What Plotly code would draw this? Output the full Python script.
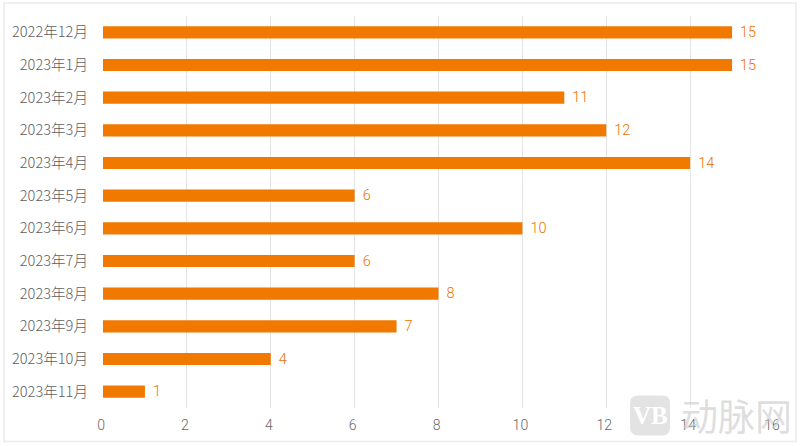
import plotly.graph_objects as go

months = ["2022年12月","2023年1月","2023年2月","2023年3月","2023年4月","2023年5月",
          "2023年6月","2023年7月","2023年8月","2023年9月","2023年10月","2023年11月"]
counts = [15,15,11,12,14,6,10,6,8,7,4,1]
x_ticks = [0,2,4,6,8,10,12,14,16]

W, H = 800, 446
L, R, T, B = 102.5, 774, 15.6, 408.5
FONT = "Noto Sans CJK SC, Roboto, sans-serif"

def px(x): return (x-L)/(R-L)
def py(y): return (B-y)/(B-T)

fig = go.Figure(go.Bar(
    x=counts, y=months, orientation="h", width=0.37,
    marker=dict(color="#F27900", line_width=0),
    texttemplate="&nbsp;\u200a%{x}", textposition="outside", cliponaxis=False, constraintext="none",
    textfont=dict(color="#EC7000", size=14.5, family="Roboto, sans-serif", weight=300),
))
fig.update_layout(
    width=W, height=H, autosize=False,
    margin=dict(l=L, r=W-R, t=T, b=H-B, pad=0),
    paper_bgcolor="white", plot_bgcolor="white", showlegend=False,
    font=dict(family=FONT, color="#7F7F7F", size=14),
    xaxis=dict(range=[0,16], tickvals=x_ticks, showgrid=True, gridcolor="#E4E4E4", gridwidth=1,
               zeroline=False, showline=False, ticks="", ticklabelshift=-2, ticklabelstandoff=7,
               tickfont=dict(family="Roboto, sans-serif", size=14, color="#666666", weight=300)),
    yaxis=dict(categoryorder="array", categoryarray=months, autorange="reversed",
               showgrid=False, zeroline=False, showline=False, ticks="", ticklabelstandoff=14,
               tickfont=dict(family=FONT, size=14.6, color="#606060", weight=300)),
    shapes=[
        dict(type="rect", xref="paper", yref="paper", x0=px(3.5), x1=px(796),
             y0=py(442), y1=py(2.5), line=dict(color="#EBEBEB", width=1.5), fillcolor="rgba(0,0,0,0)", layer="below"),
        dict(type="path", xref="paper", yref="paper",
             path=" ".join([
                 f"M {px(638)} {py(396)}",
                 f"L {px(662)} {py(396)}",
                 f"Q {px(670)} {py(396)} {px(670)} {py(404)}",
                 f"L {px(670)} {py(428)}",
                 f"Q {px(670)} {py(436)} {px(662)} {py(436)}",
                 f"L {px(638)} {py(436)}",
                 f"Q {px(630)} {py(436)} {px(630)} {py(428)}",
                 f"L {px(630)} {py(404)}",
                 f"Q {px(630)} {py(396)} {px(638)} {py(396)} Z",
             ]),
             fillcolor="#E3E3E3", line_width=0, layer="above"),
    ],
    annotations=[
        dict(text="<b>VB</b>", xref="paper", yref="paper", x=px(650), y=py(416),
             showarrow=False, xanchor="center", yanchor="middle",
             font=dict(family="Liberation Serif, serif", size=25, color="white")),
        dict(text="动脉网", xref="paper", yref="paper", x=px(679), y=py(416),
             showarrow=False, xanchor="left", yanchor="middle",
             font=dict(family="Noto Sans CJK SC", size=37, color="rgba(200,200,200,0.6)")),
    ],
)
fig.write_html("out.html", config=dict(displayModeBar=False),
               post_script="document.body.style.margin='0';document.body.style.overflow='hidden';")
